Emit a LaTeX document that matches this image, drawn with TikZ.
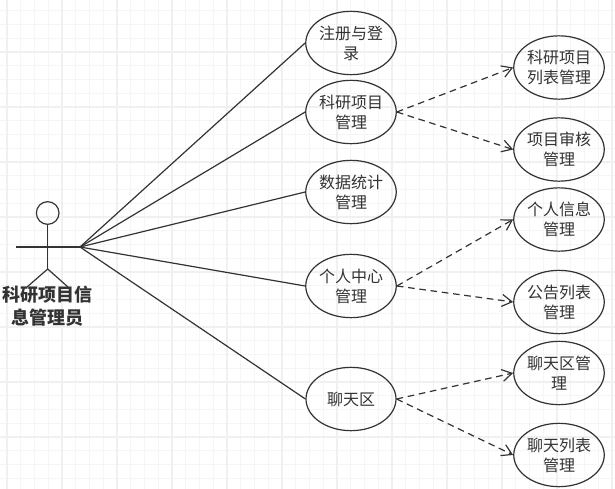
\documentclass[tikz,border=0pt]{standalone}
\usepackage{fontspec}
\setmainfont{Noto Sans CJK SC}
\usepackage{tikz}
\usetikzlibrary{shapes.geometric,arrows.meta}
\definecolor{inkgray}{HTML}{333333}

\begin{document}
\begin{tikzpicture}[x=0.75pt, y=-0.75pt, line width=0.9pt, draw=inkgray, text=inkgray,
	every node/.style={font=\fontsize{12}{15}\selectfont},
	usecase/.style={draw, ellipse, minimum width=67.5pt, minimum height=47.5pt, inner sep=0pt, align=center},
	include/.style={dashed, dash pattern=on 5pt off 3.5pt, -{Straight Barb[length=7.5pt,width=9pt]}},
	gridminor/.style={draw=black!4, line width=0.6pt},
	gridmajor/.style={draw=black!6, line width=0.9pt}]
	\useasboundingbox (0,0) rectangle (615,489);
	\fill[white] (0,0) rectangle (615,489);
	\begin{scope}[y=0.75pt, shift={(7,3)}]
		\draw[gridminor, xstep=13.75, ystep=13.75] (-7,-492) grid (608,-3);
		\draw[gridmajor, xstep=55, ystep=55] (-7,-492) grid (608,-3);
	\end{scope}
	% actor
	\node[draw, circle, minimum size=17pt, inner sep=0pt] (head) at (47.7,213) {};
	\coordinate (hip) at (47.7,269);
	\coordinate (handL) at (16,247);
	\coordinate (handR) at (80,247);
	\coordinate (footL) at (27,287);
	\coordinate (footR) at (68,287);
	\draw (head) -- (hip);
	\draw (handL) -- (handR);
	\draw (footL) -- (hip) -- (footR);
	\node[font=\fontsize{13.5}{17.25}\selectfont\bfseries, align=center] (actor) at (47.5,306.5) {科研项目信\\息管理员};
	% use cases
	\node[usecase] (login) at (351,43) {注册与登\\录};
	\node[usecase] (project) at (351,112) {科研项目\\管理};
	\node[usecase] (stats) at (351,192) {数据统计\\管理};
	\node[usecase] (center) at (351,286) {个人中心\\管理};
	\node[usecase] (chat) at (351,399) {聊天区};
	\node[usecase] (plist) at (559,67.5) {科研项目\\列表管理};
	\node[usecase] (audit) at (559,149.5) {项目审核\\管理};
	\node[usecase] (info) at (559,219.5) {个人信息\\管理};
	\node[usecase] (notice) at (559,302) {公告列表\\管理};
	\node[usecase] (chatm) at (559,373) {聊天区管\\理};
	\node[usecase] (chatl) at (559,455) {聊天列表\\管理};
	% associations
	\draw (handR) -- (login.west);
	\draw (handR) -- (project.west);
	\draw (handR) -- (stats.west);
	\draw (handR) -- (center.west);
	\draw (handR) -- (chat.west);
	\draw[include] (project.east) -- (plist.west);
	\draw[include] (project.east) -- (audit.west);
	\draw[include] (center.east) -- (info.west);
	\draw[include] (center.east) -- (notice.west);
	\draw[include] (chat.east) -- (chatm.west);
	\draw[include] (chat.east) -- (chatl.west);
\end{tikzpicture}
\end{document}
